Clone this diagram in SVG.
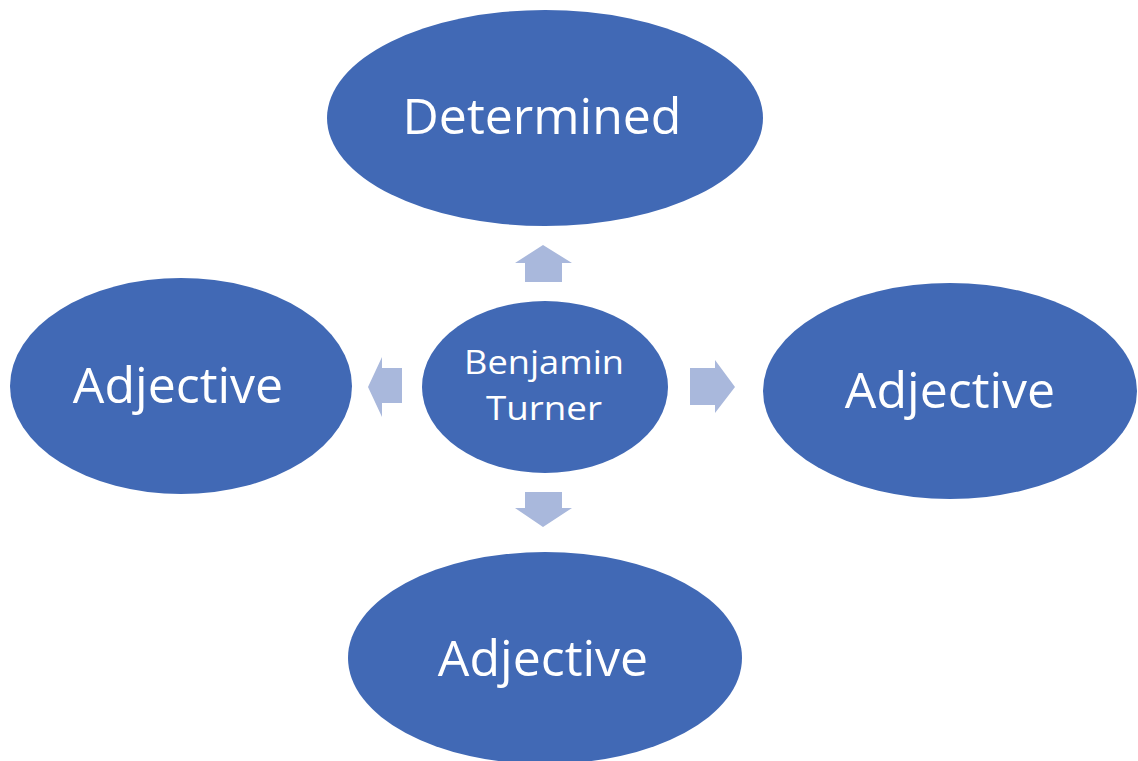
<svg xmlns="http://www.w3.org/2000/svg" width="1138" height="761" viewBox="0 0 1138 761">
<style>
.n{fill:#4169b5;}
.t{fill:#ffffff;font-family:"Open Sans","DejaVu Sans",sans-serif;text-anchor:middle;}
.a{fill:#a9b8dc;}
</style>
<rect width="1138" height="761" fill="#ffffff"/>
<g id="connectors">
<polygon class="a" points="525,282 525,263 515,263 543,245 572,263 562,263 562,282"/>
<polygon class="a" points="402,368 382,368 382,357 368,387 382,417 382,403 402,403"/>
<polygon class="a" points="690,368 715,368 715,360 735,387 715,413 715,405 690,405"/>
<polygon class="a" points="525,492 562,492 562,508 572,508 543,527 515,508 525,508"/>
</g>
<g id="node-top"><ellipse class="n" cx="545" cy="118" rx="218" ry="108"/><text class="t" x="542" y="134" font-size="50">Determined</text></g>
<g id="node-left"><ellipse class="n" cx="181" cy="386" rx="171" ry="108"/><text class="t" x="178" y="403" font-size="50">Adjective</text></g>
<g id="node-right"><ellipse class="n" cx="950" cy="391" rx="187" ry="108"/><text class="t" x="950" y="408" font-size="50">Adjective</text></g>
<g id="node-bottom"><ellipse class="n" cx="545" cy="658" rx="197" ry="106"/><text class="t" x="543" y="676" font-size="50">Adjective</text></g>
<g id="node-center"><ellipse class="n" cx="545" cy="387" rx="123" ry="86"/><text class="t" x="544" y="374" font-size="33" textLength="160" lengthAdjust="spacingAndGlyphs">Benjamin</text><text class="t" x="544" y="420" font-size="33" textLength="116" lengthAdjust="spacingAndGlyphs">Turner</text></g>
</svg>
